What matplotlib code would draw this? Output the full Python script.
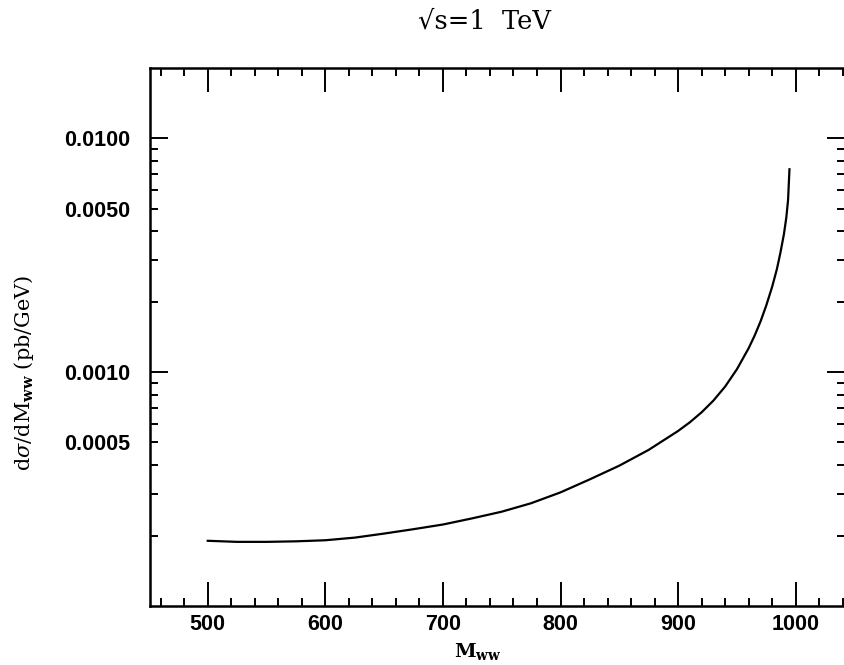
import matplotlib
matplotlib.use("Agg")
import matplotlib.pyplot as plt
from matplotlib.ticker import FixedLocator, NullFormatter

# Data
m_ww = [500, 525, 550, 575, 600, 625, 650, 675, 700, 725, 750, 775, 800, 825, 850,
        875, 900, 910, 920, 930, 940, 950, 960, 965, 970, 975, 980, 984, 987, 990,
        992, 993.5, 994.7]
dsigma = [1.90e-4, 1.88e-4, 1.88e-4, 1.89e-4, 1.91e-4, 1.96e-4, 2.04e-4, 2.13e-4, 2.23e-4,
          2.37e-4, 2.53e-4, 2.75e-4, 3.06e-4, 3.48e-4, 3.98e-4,
          4.65e-4, 5.60e-4, 6.10e-4, 6.73e-4, 7.55e-4, 8.67e-4, 1.028e-3, 1.265e-3,
          1.429e-3, 1.641e-3, 1.928e-3, 2.317e-3, 2.754e-3, 3.236e-3, 3.89e-3,
          4.57e-3, 5.43e-3, 7.36e-3]

y_major = [1e-3, 1e-2]
y_major_labels = ["0.0010", "0.0100"]
y_minor = [2e-4, 3e-4, 4e-4, 5e-4, 6e-4, 7e-4, 8e-4, 9e-4,
           2e-3, 3e-3, 4e-3, 5e-3, 6e-3, 7e-3, 8e-3, 9e-3]
y_minor_labels = ["", "", "", "0.0005", "", "", "", "",
                  "", "", "", "0.0050", "", "", "", ""]
x_major = [500, 600, 700, 800, 900, 1000]
x_minor = [460, 480, 520, 540, 560, 580, 620, 640, 660, 680, 720, 740, 760, 780,
           820, 840, 860, 880, 920, 940, 960, 980, 1020, 1040]

plt.rcParams["mathtext.fontset"] = "custom"
plt.rcParams["mathtext.rm"] = "DejaVu Serif"
plt.rcParams["mathtext.it"] = "DejaVu Serif:italic"
plt.rcParams["mathtext.bf"] = "DejaVu Serif:bold"

W, H = 844, 665
fig = plt.figure(figsize=(W / 100, H / 100), dpi=100)
left, right, bottom, top = 150, 844.5, 606, 67.7
ax = fig.add_axes([left / W, (H - bottom) / H, (right - left) / W, (bottom - top) / H])

ax.plot(m_ww, dsigma, color="black", lw=1.6)
ax.set_yscale("log")
ax.set_xlim(450.9, 1041.5)
ax.set_ylim(1.0e-4, 2.0e-2)

ax.yaxis.set_major_locator(FixedLocator(y_major))
ax.set_yticks(y_major, labels=y_major_labels)
ax.set_yticks(y_minor, labels=y_minor_labels, minor=True)
ax.set_xticks(x_major, labels=[str(v) for v in x_major])
ax.set_xticks(x_minor, minor=True)
ax.xaxis.set_minor_formatter(NullFormatter())

for lab in ax.get_xticklabels() + ax.get_yticklabels() + ax.get_yticklabels(minor=True):
    lab.set_fontfamily("Liberation Sans")
    lab.set_fontweight("bold")
    lab.set_fontsize(15.5)

ax.tick_params(axis="both", which="both", direction="in", top=True, right=True,
               width=1.4, color="black")
ax.tick_params(axis="x", which="major", length=17, pad=6)
ax.tick_params(axis="x", which="minor", length=5.5)
ax.tick_params(axis="y", which="major", length=13, pad=14)
ax.tick_params(axis="y", which="minor", length=5.5, pad=14)
for s in ax.spines.values():
    s.set_linewidth(1.8)

fig.text(478 / W, 1 - 652 / H, r"$\mathbf{M_{ww}}$", ha="center", va="center",
         fontsize=14)
fig.text(24 / W, 1 - 373 / H, r"d$\sigma$/dM$_{\mathbf{ww}}$ (pb/GeV)", rotation=90,
         ha="center", va="center", fontsize=15, family="DejaVu Serif")
fig.text(484 / W, 1 - 21 / H, "√s=1  TeV", ha="center", va="center", fontsize=18.5,
         family="DejaVu Serif")

fig.savefig("out.png", dpi=100, facecolor="white")
